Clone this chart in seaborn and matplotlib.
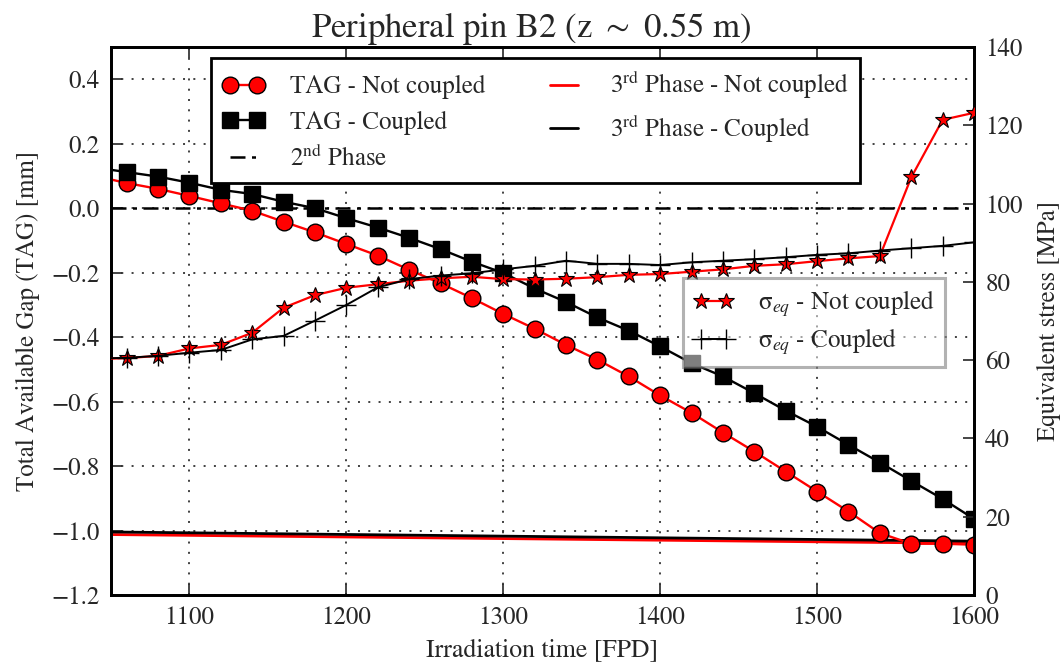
import matplotlib
matplotlib.use("Agg")
import matplotlib.pyplot as plt
import numpy as np
import pandas as pd
import seaborn as sns

# ---------------- data ----------------
time_fpd = [1040, 1060, 1080, 1100, 1120, 1140, 1160, 1180, 1200, 1220, 1240,
            1260, 1280, 1300, 1320, 1340, 1360, 1380, 1400, 1420, 1440, 1460,
            1480, 1500, 1520, 1540, 1560, 1580, 1600]

tag_not_coupled = [0.100, 0.078, 0.060, 0.038, 0.015, -0.008, -0.042, -0.075,
                   -0.111, -0.147, -0.191, -0.233, -0.279, -0.328, -0.374,
                   -0.424, -0.470, -0.522, -0.581, -0.635, -0.696, -0.755,
                   -0.817, -0.879, -0.941, -1.008, -1.041, -1.041, -1.044]

tag_coupled = [0.126, 0.112, 0.098, 0.079, 0.057, 0.044, 0.020, 0.000,
               -0.031, -0.060, -0.092, -0.127, -0.166, -0.201, -0.249,
               -0.291, -0.339, -0.380, -0.429, -0.481, -0.522, -0.574,
               -0.628, -0.678, -0.734, -0.789, -0.846, -0.902, -0.964]

stress_not_coupled = [60.3, 60.5, 61.1, 63.0, 63.9, 67.0, 73.4, 76.6, 78.5,
                      79.4, 80.3, 80.9, 81.3, 80.7, 80.6, 80.8, 81.2, 81.8,
                      82.0, 82.6, 83.2, 84.1, 84.5, 85.3, 86.0, 86.6, 106.7,
                      121.4, 123.2]

stress_coupled = [60.4, 60.6, 61.1, 61.9, 62.6, 65.3, 66.2, 70.1, 74.1, 78.6,
                  80.7, 81.6, 82.2, 83.2, 84.1, 85.4, 84.6, 84.6, 84.3, 85.0,
                  85.4, 85.8, 86.3, 86.9, 87.3, 88.0, 88.6, 89.2, 90.1]

phase3_time = [1040, 1600]
phase3_not_coupled = [-1.012, -1.040]
phase3_coupled = [-1.004, -1.033]
phase2_tag = 0.0

xticks = [1100, 1200, 1300, 1400, 1500, 1600]
yticks_left = [-1.2, -1.0, -0.8, -0.6, -0.4, -0.2, 0.0, 0.2, 0.4]
yticks_right = [0, 20, 40, 60, 80, 100, 120, 140]

title = r"Peripheral pin B2 (z $\sim$ 0.55 m)"
xlabel = "Irradiation time [FPD]"
ylabel_left = "Total Available Gap (TAG) [mm]"
ylabel_right = "Equivalent stress [MPa]"

# ---------------- style ----------------
sns.set_style("ticks")
plt.rcParams["font.family"] = ["STIXGeneral", "DejaVu Serif"]
plt.rcParams["mathtext.fontset"] = "stix"
plt.rcParams["axes.unicode_minus"] = True
FS = 18

df = pd.DataFrame({"t": time_fpd, "tag_nc": tag_not_coupled, "tag_c": tag_coupled,
                   "s_nc": stress_not_coupled, "s_c": stress_coupled})
df3 = pd.DataFrame({"t": phase3_time, "nc": phase3_not_coupled, "c": phase3_coupled})

fig = plt.figure(figsize=(10.63, 6.68), dpi=100)
ax = fig.add_axes([0.1044, 0.1093, 0.8119, 0.8203])
ax2 = ax.twinx()

# TAG curves
sns.lineplot(data=df, x="t", y="tag_nc", ax=ax, color="red", marker="o",
             markersize=12, markeredgecolor="k", markeredgewidth=1.0,
             linewidth=1.7, legend=False, zorder=3)
h_tag_nc = ax.lines[-1]
sns.lineplot(data=df, x="t", y="tag_c", ax=ax, color="k", marker="s",
             markersize=11, markeredgecolor="k", markeredgewidth=1.0,
             linewidth=1.7, legend=False, zorder=3)
h_tag_c = ax.lines[-1]
h_ph2 = ax.axhline(phase2_tag, color="k", linewidth=1.8,
                   dashes=(6.0, 2.6, 1.6, 2.6), zorder=2)
sns.lineplot(data=df3, x="t", y="nc", ax=ax, color="red", linewidth=2.0, legend=False, zorder=2)
h_ph3_nc = ax.lines[-1]
sns.lineplot(data=df3, x="t", y="c", ax=ax, color="k", linewidth=2.0, legend=False, zorder=2)
h_ph3_c = ax.lines[-1]

# stress curves
sns.lineplot(data=df, x="t", y="s_nc", ax=ax2, color="red", marker="*",
             markersize=12, markeredgecolor="k", markeredgewidth=0.8,
             linewidth=1.6, legend=False, zorder=3)
h_s_nc = ax2.lines[-1]
sns.lineplot(data=df, x="t", y="s_c", ax=ax2, color="k", marker="+",
             markersize=14, markeredgecolor="k", markeredgewidth=1.0,
             linewidth=1.4, legend=False, zorder=3)
h_s_c = ax2.lines[-1]

ax.set_xlim(1050, 1600)
ax.set_ylim(-1.2, 0.5)
ax2.set_ylim(0, 140)
ax.set_xticks(xticks)
ax.set_yticks(yticks_left)
ax2.set_yticks(yticks_right)
ax.set_yticklabels([f"{v:.1f}".replace("-", "\u2212") for v in yticks_left])

ax.grid(True, color="0.2", linewidth=1.3, dashes=(1.1, 4.6))
ax.tick_params(axis="both", direction="in", length=8, width=1.2, labelsize=FS,
               top=True, pad=8)
ax2.tick_params(axis="y", direction="in", length=8, width=1.2, labelsize=FS, pad=8)
for a in (ax, ax2):
    for s in a.spines.values():
        s.set_linewidth(2.0)
        s.set_color("k")

ax.set_xlabel(xlabel, fontsize=18.5, labelpad=6)
ax.set_ylabel(ylabel_left, fontsize=18, labelpad=8)
ax2.set_ylabel(ylabel_right, fontsize=18, labelpad=10)
ax.set_title(title, fontsize=25, pad=7, x=0.487)

# legends
leg1 = ax.legend([h_tag_nc, h_tag_c, h_ph2, h_ph3_nc, h_ph3_c],
                 ["TAG - Not coupled", "TAG - Coupled", r"2$^{\rm nd}$ Phase",
                  r"3$^{\rm rd}$ Phase - Not coupled", r"3$^{\rm rd}$ Phase - Coupled"],
                 ncol=2, loc="upper left", bbox_to_anchor=(0.116, 0.98),
                 borderaxespad=0, fontsize=FS, numpoints=2, handlelength=1.7,
                 handletextpad=1.0, columnspacing=2.3, labelspacing=0.45,
                 borderpad=0.45, fancybox=False, framealpha=1.0, edgecolor="k")
leg1.get_frame().set_linewidth(2.0)
leg1.set_zorder(10)

leg2 = ax2.legend([h_s_nc, h_s_c],
                  ["\u03c3$_{eq}$ - Not coupled", "\u03c3$_{eq}$ - Coupled"],
                  loc="upper left", bbox_to_anchor=(0.663, 0.578), borderaxespad=0,
                  fontsize=FS, numpoints=2, handlelength=1.6, handletextpad=1.0,
                  labelspacing=0.3, borderpad=0.4, fancybox=False,
                  framealpha=0.5, edgecolor="0.4")
leg2.get_frame().set_linewidth(2.2)

fig.savefig("out.png", dpi=100)
